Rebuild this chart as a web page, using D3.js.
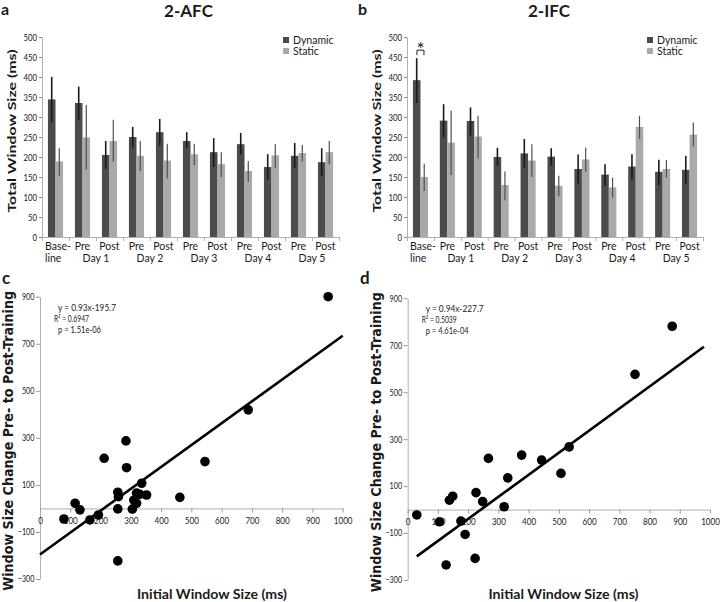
<!DOCTYPE html>
<html><head><meta charset="utf-8">
<script src="https://cdn.jsdelivr.net/npm/d3@7"></script>
<style>
body{margin:0;background:#fff;}
svg{display:block;}
text{font-family:Lato,"Open Sans","DejaVu Sans",sans-serif;fill:#1a1a1a;}
</style></head>
<body>
<svg id="chart" width="720" height="602"></svg>
<script>
// ---------- data ----------
const groups = ["Baseline","Pre D1","Post D1","Pre D2","Post D2","Pre D3","Post D3","Pre D4","Post D4","Pre D5","Post D5"];
const tickLine1 = ["Base-","Pre","Post","Pre","Post","Pre","Post","Pre","Post","Pre","Post"];
const tickLine2 = ["line","","","","","","","","","",""];
const dayLabels = ["Day 1","Day 2","Day 3","Day 4","Day 5"];
const barTicks = [0,50,100,150,200,250,300,350,400,450,500];
const seriesNames = ["Dynamic","Static"];

// 2-AFC
const afcDyn   = [344,335,205,250,262,240,212,232,175,203,187];
const afcDynLo = [288,292,170,224,228,222,175,206,143,173,152];
const afcDynHi = [400,376,240,275,295,262,247,260,207,235,222];
const afcSta   = [189,249,240,203,191,207,182,165,204,210,212];
const afcStaLo = [152,168,188,165,147,180,150,138,172,188,182];
const afcStaHi = [222,330,293,240,233,233,212,190,232,230,240];

// 2-IFC
const ifcDyn   = [392,291,290,200,209,201,170,156,176,163,168];
const ifcDynLo = [335,248,254,178,173,178,133,128,143,130,133];
const ifcDynHi = [447,332,324,223,245,222,206,182,207,193,203];
const ifcSta   = [150,236,251,130,191,128,194,124,275,170,256];
const ifcStaLo = [115,155,197, 92,150,102,163, 98,245,148,226];
const ifcStaHi = [183,316,303,164,232,153,224,148,303,192,286];

// scatter c (2-AFC)
const cX = [952,688,284,212,286,545,336,257,259,319,352,462,116,132,257,305,319, 79,165,193,257,330,310];
const cY = [900,419,287,213,173,199,107, 69, 50, 65, 57, 47, 22, -6, -2, -3, 22,-45,-49,-28,-223, 60, 35];
const cFit = {slope:0.93, intercept:-195.7, x0:0, x1:1000};
const cStats = ["y = 0.93x-195.7","R² = 0.6947","p = 1.51e-06"];

// scatter d (2-IFC)
const dX = [875,752,534,267,377,443,507,331,226,149,138,248,319, 30,105,176,190,223,127];
const dY = [781,576,267,218,232,211,154,135, 72, 57, 40, 34, 12,-23,-52,-49,-106,-208,-236];
const dFit = {slope:0.94, intercept:-227.7, x0:30, x1:980};
const dStats = ["y = 0.94x-227.7","R² = 0.5039","p = 4.61e-04"];

const scatterYTicks = [-300,-100,100,300,500,700,900];
const scatterXTicks = [0,100,200,300,400,500,600,700,800,900,1000];

// ---------- drawing ----------
const svg = d3.select("#chart");
const DYN = "#4b4b4b", STA = "#a9a9a9", AXIS = "#b0b0b0";

function barPanel(o){
  const g = svg.append("g");
  const y = d3.scaleLinear().domain([0,500]).range([o.y0, o.y0-200]);
  const xb = d3.scaleBand().domain(d3.range(groups.length)).range([o.x0,o.x1]).padding(0);
  const xl = d3.scaleLinear().domain([0,groups.length]).range([o.x0,o.x1]);
  const bw = xb.bandwidth()*0.28;

  // y axis
  const ya = g.append("g").attr("transform",`translate(${o.x0},0)`)
    .call(d3.axisLeft(y).tickValues(barTicks).tickSize(3).tickSizeOuter(0).tickPadding(3));
  ya.select(".domain").attr("stroke",AXIS);
  ya.selectAll(".tick line").attr("stroke","#888");
  ya.selectAll(".tick text").style("font-size","9.5px").attr("fill","#222")
    .attr("transform","scale(0.82,1)");

  // x axis
  const xa = g.append("g").attr("transform",`translate(0,${o.y0})`)
    .call(d3.axisBottom(xl).tickValues(d3.range(groups.length+1)).tickSize(4).tickSizeOuter(0).tickFormat(""));
  xa.select(".domain").attr("stroke",AXIS);
  xa.selectAll(".tick line").attr("stroke",AXIS);

  const idx = d3.range(groups.length);
  // bars
  g.selectAll(".bd").data(idx).join("rect")
    .attr("x",i=>xb(i)+xb.bandwidth()/2-bw).attr("width",bw)
    .attr("y",i=>y(o.dyn[i])).attr("height",i=>y(0)-y(o.dyn[i])).attr("fill",DYN);
  g.selectAll(".bs").data(idx).join("rect")
    .attr("x",i=>xb(i)+xb.bandwidth()/2).attr("width",bw)
    .attr("y",i=>y(o.sta[i])).attr("height",i=>y(0)-y(o.sta[i])).attr("fill",STA);
  // error bars
  g.selectAll(".ed").data(idx).join("line")
    .attr("x1",i=>xb(i)+xb.bandwidth()/2-bw/2).attr("x2",i=>xb(i)+xb.bandwidth()/2-bw/2)
    .attr("y1",i=>y(o.dynLo[i])).attr("y2",i=>y(o.dynHi[i]))
    .attr("stroke","#1a1a1a").attr("stroke-width",1.6);
  g.selectAll(".es").data(idx).join("line")
    .attr("x1",i=>xb(i)+xb.bandwidth()/2+bw/2).attr("x2",i=>xb(i)+xb.bandwidth()/2+bw/2)
    .attr("y1",i=>y(o.staLo[i])).attr("y2",i=>y(o.staHi[i]))
    .attr("stroke","#505050").attr("stroke-width",1.2);

  // tick labels
  g.selectAll(".t1").data(idx).join("text")
    .attr("x",i=> i===0 ? xb(i)+3 : xb(i)+xb.bandwidth()/2)
    .attr("y",o.y0+13).attr("text-anchor",i=>i===0?"start":"middle")
    .style("font-size","10.5px").text(i=>tickLine1[i]);
  g.selectAll(".t2").data(idx.filter(i=>tickLine2[i])).join("text")
    .attr("x",i=>xb(i)+3).attr("y",o.y0+25)
    .style("font-size","10.5px").text(i=>tickLine2[i]);
  g.selectAll(".day").data(dayLabels).join("text")
    .attr("x",(d,k)=>xl(2+2*k)).attr("y",o.y0+25).attr("text-anchor","middle")
    .style("font-size","10.5px").text(d=>d);

  // y label
  g.append("text").attr("transform",`translate(${o.x0-26},${o.y0-106}) rotate(-90)`)
    .attr("text-anchor","middle").style("font-size","12px").style("font-weight","bold")
    .attr("textLength",163).attr("lengthAdjust","spacingAndGlyphs")
    .text("Total Window Size (ms)");

  // legend
  const leg = g.append("g");
  seriesNames.forEach((n,k)=>{
    leg.append("rect").attr("x",o.legX).attr("y",37+k*11).attr("width",6).attr("height",6)
      .attr("fill",k===0?DYN:STA);
    leg.append("text").attr("x",o.legX+10).attr("y",44+k*11).style("font-size","10.5px").text(n);
  });

  // title and letter
  svg.append("text").attr("x",o.titleX).attr("y",17).attr("text-anchor","middle")
    .style("font-size","17px").style("font-weight","bold").text(o.title);
  svg.append("text").attr("x",o.letterX).attr("y",15)
    .style("font-size","16px").style("font-weight","bold").text(o.letter);
  return {g,y,xb,bw};
}

barPanel({x0:42,x1:339,y0:237,dyn:afcDyn,dynLo:afcDynLo,dynHi:afcDynHi,sta:afcSta,staLo:afcStaLo,staHi:afcStaHi,
  legX:283,title:"2-AFC",titleX:188.5,letter:"a",letterX:1});
const pb = barPanel({x0:407,x1:703,y0:237,dyn:ifcDyn,dynLo:ifcDynLo,dynHi:ifcDynHi,sta:ifcSta,staLo:ifcStaLo,staHi:ifcStaHi,
  legX:647,title:"2-IFC",titleX:549,letter:"b",letterX:358});

// significance mark on 2-IFC baseline
{
  const cx = pb.xb(0)+pb.xb.bandwidth()/2;
  const yb = pb.y(467);
  pb.g.append("path").attr("d",`M${cx-3.5},${yb+5}V${yb}H${cx+3.5}V${yb+5}`)
    .attr("fill","none").attr("stroke","#222").attr("stroke-width",1);
  pb.g.append("text").attr("x",cx).attr("y",yb+6).attr("text-anchor","middle")
    .style("font-size","19px").text("*");
}

function scatterPanel(o){
  const g = svg.append("g");
  const x = d3.scaleLinear().domain([0,1000]).range([o.x0,o.x1]);
  const y = d3.scaleLinear().domain([-300,900]).range([o.yb,o.yt]);

  const ya = g.append("g").attr("transform",`translate(${o.x0},0)`)
    .call(d3.axisLeft(y).tickValues(scatterYTicks).tickSize(4).tickSizeOuter(0).tickPadding(3));
  ya.select(".domain").attr("stroke",AXIS);
  ya.selectAll(".tick line").attr("stroke","#999");
  ya.selectAll(".tick text").style("font-size","9px").attr("fill","#222")
    .attr("transform","scale(0.8,1)");

  const xa = g.append("g").attr("transform",`translate(0,${y(0)})`)
    .call(d3.axisBottom(x).tickValues(scatterXTicks).tickSize(4).tickSizeOuter(0).tickPadding(5).tickFormat(d3.format("d")));
  xa.select(".domain").attr("stroke",AXIS);
  xa.selectAll(".tick line").attr("stroke","#999");
  xa.selectAll(".tick text").style("font-size","9.5px").attr("fill","#222")
    .attr("transform","scale(0.85,1)");

  g.selectAll(".dot").data(o.xs.map((v,i)=>[v,o.ys[i]])).join("circle")
    .attr("cx",d=>x(d[0])).attr("cy",d=>y(d[1])).attr("r",4.8).attr("fill","#000");

  const f = o.fit;
  g.append("line").attr("x1",x(f.x0)).attr("y1",y(f.slope*f.x0+f.intercept))
    .attr("x2",x(f.x1)).attr("y2",y(f.slope*f.x1+f.intercept))
    .attr("stroke","#000").attr("stroke-width",2.6);

  const sx = [o.x0+18,o.x0+14,o.x0+18];
  const sw = [58,35,43];
  o.stats.forEach((s,k)=>{
    g.append("text").attr("x",sx[k]).attr("y",o.yt+14+k*11)
      .style("font-size","9.5px").attr("textLength",sw[k]).attr("lengthAdjust","spacingAndGlyphs").text(s);
  });

  g.append("text").attr("transform",`translate(${o.x0-27},${(o.yt+o.yb)/2+3}) rotate(-90)`)
    .attr("text-anchor","middle").style("font-family","'DejaVu Sans',sans-serif")
    .style("font-size","13.5px").style("font-weight","bold")
    .attr("textLength",300).attr("lengthAdjust","spacingAndGlyphs")
    .text("Window Size Change Pre- to Post-Training");
  g.append("text").attr("x",o.xlabX).attr("y",599).attr("text-anchor","middle")
    .style("font-size","13px").style("font-weight","bold")
    .attr("textLength",150).attr("lengthAdjust","spacingAndGlyphs")
    .text("Initial Window Size (ms)");
  svg.append("text").attr("x",o.letterX).attr("y",284)
    .style("font-size","17px").style("font-weight","bold").text(o.letter);
}

scatterPanel({x0:40,x1:342.7,yt:296.7,yb:579,xs:cX,ys:cY,fit:cFit,stats:cStats,xlabX:212,letter:"c",letterX:2});
scatterPanel({x0:407.7,x1:710,yt:298.3,yb:580,xs:dX,ys:dY,fit:dFit,stats:dStats,xlabX:563.5,letter:"d",letterX:360});
</script>
</body></html>
